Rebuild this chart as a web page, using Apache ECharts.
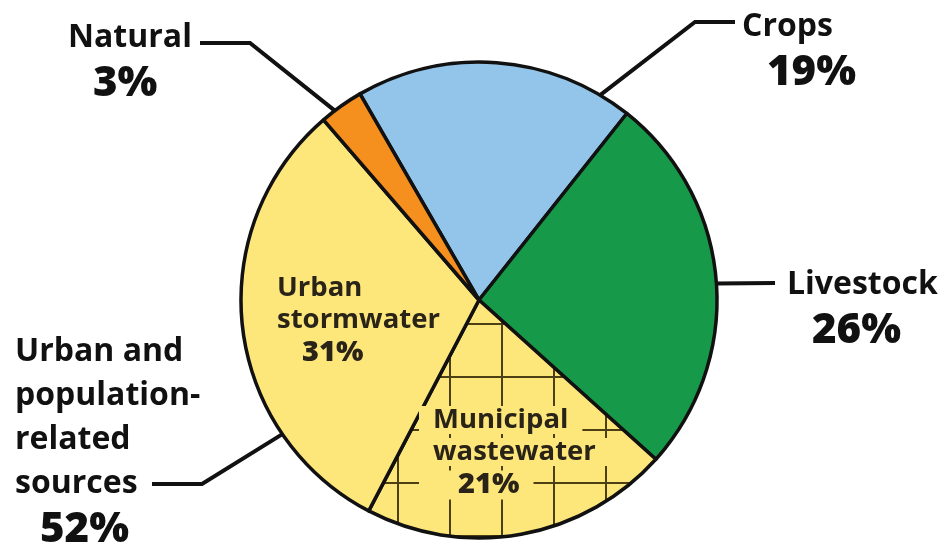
<!DOCTYPE html>
<html>
<head>
<meta charset="utf-8">
<script src="https://cdn.jsdelivr.net/npm/echarts@6/dist/echarts.min.js"></script>
<style>
  html, body { margin: 0; padding: 0; background: #fff; }
  #chart { width: 951px; height: 548px; }
</style>
</head>
<body>
<div id="chart"></div>
<script>
// Slices, clockwise from the upper left
const sliceNames = ['Crops', 'Livestock', 'Municipal wastewater', 'Urban stormwater', 'Natural'];
const sliceValues = [19, 26, 21, 31, 3];
const sliceLabelText = ['', '', 'Municipal\nwastewater', 'Urban\nstormwater', ''];

// Outer groups and the slices each one covers
const groupNames = ['Crops', 'Livestock', 'Urban and population-related sources', 'Natural'];
const groupMembers = [['Crops'], ['Livestock'], ['Municipal wastewater', 'Urban stormwater'], ['Natural']];
const groupLabelText = ['Crops', 'Livestock', 'Urban and\npopulation-\nrelated\nsources', 'Natural'];

// ---- styling / layout ----
const FONT = '"Open Sans", "Noto Sans", sans-serif';
const CENTER = [479, 300];
const RADIUS = 238;
const START_ANGLE = 120;
const COLORS = {
  'Crops': '#93c5ea',
  'Livestock': '#17994a',
  'Urban stormwater': '#fde67a',
  'Natural': '#f5901f'
};
const YELLOW = '#fde67a';

// grid-hatched fill for the wastewater slice
function gridPattern() {
  const w = 52, h = 53;
  const c = document.createElement('canvas');
  c.width = w; c.height = h;
  const ctx = c.getContext('2d');
  ctx.fillStyle = YELLOW;
  ctx.fillRect(0, 0, w, h);
  ctx.fillStyle = '#4d3f14';
  ctx.fillRect(0, 0, 2, h);
  ctx.fillRect(0, 0, w, 2);
  return { image: c, repeat: 'repeat', x: 33, y: 5 };
}

// point on the rim, angle measured clockwise from 12 o'clock
function rim(deg) {
  const a = deg * Math.PI / 180;
  return [CENTER[0] + RADIUS * Math.sin(a), CENTER[1] - RADIUS * Math.cos(a)];
}

// outer label placement and leader lines (by group index)
const outerLayout = [
  { x: 742, y: 5,   rimAngle: 30.6,  bends: [[695, 22], [735, 22]] },
  { x: 787, y: 263, rimAngle: 86,    bends: [[775, 283]] },
  { x: 15,  y: 330, rimAngle: 235.7, bends: [[202, 484], [152, 484]] },
  { x: 68,  y: 16,  rimAngle: 322.7, bends: [[250, 43], [200, 43]] }
];
// inner label placement (by slice index)
const innerLayout = {
  2: { x: 433, y: 404 },
  3: { x: 277, y: 272 }
};

const sliceData = sliceNames.map(function (name, i) {
  const item = { name: name, value: sliceValues[i] };
  item.itemStyle = { color: name === 'Municipal wastewater' ? gridPattern() : COLORS[name] };
  if (sliceLabelText[i]) {
    const bg = name === 'Municipal wastewater';
    item.label = {
      show: true,
      position: 'inside',
      formatter: '{' + (bg ? 'mn' : 'n') + '|' + sliceLabelText[i] + '}\n{' + (bg ? 'mp' : 'p') + '|' + sliceValues[i] + '%}'
    };
  } else {
    item.label = { show: false };
  }
  return item;
});

const groupData = groupNames.map(function (name, i) {
  const v = groupMembers[i].reduce(function (s, m) { return s + sliceValues[sliceNames.indexOf(m)]; }, 0);
  return {
    name: name,
    value: v,
    label: { formatter: '{n|' + groupLabelText[i] + '}\n{p|' + v + '%}' }
  };
});

const innerName = { fontFamily: FONT, fontSize: 27.5, fontWeight: 700, lineHeight: 32, color: '#2a2418' };
const innerPct = { fontFamily: FONT, fontSize: 29, fontWeight: 800, lineHeight: 34, color: '#2a2418', padding: [0, 0, 0, 25] };

const chart = echarts.init(document.getElementById('chart'), null, { renderer: 'canvas' });
chart.setOption({
  backgroundColor: '#ffffff',
  animation: false,
  series: [
    {
      type: 'pie',
      center: CENTER,
      radius: RADIUS,
      startAngle: START_ANGLE,
      clockwise: true,
      avoidLabelOverlap: false,
      silent: true,
      itemStyle: { borderColor: '#111', borderWidth: 3.5 },
      emphasis: { disabled: true },
      labelLine: { show: false },
      label: {
        rich: {
          n: innerName,
          p: innerPct,
          mn: Object.assign({}, innerName, { backgroundColor: YELLOW, padding: [0, 14, 0, 14] }),
          mp: Object.assign({}, innerPct, { backgroundColor: YELLOW, padding: [0, 14, 0, 39] })
        }
      },
      labelLayout: function (p) {
        const cfg = innerLayout[p.dataIndex];
        if (!cfg) return {};
        const bg = sliceNames[p.dataIndex] === 'Municipal wastewater';
        return { x: cfg.x - (bg ? 14 : 0), y: cfg.y, align: 'left', verticalAlign: 'top' };
      },
      data: sliceData
    },
    {
      type: 'pie',
      center: CENTER,
      radius: RADIUS,
      startAngle: START_ANGLE,
      clockwise: true,
      avoidLabelOverlap: false,
      silent: true,
      itemStyle: { color: 'rgba(0,0,0,0)', borderWidth: 0 },
      emphasis: { disabled: true },
      label: {
        show: true,
        position: 'outside',
        rich: {
          n: { fontFamily: FONT, fontSize: 32, fontWeight: 700, lineHeight: 44, color: '#111' },
          p: { fontFamily: FONT, fontSize: 42, fontWeight: 800, lineHeight: 48, color: '#111', padding: [0, 0, 0, 25] }
        }
      },
      labelLine: { show: true, lineStyle: { color: '#111', width: 4 } },
      labelLayout: function (p) {
        const cfg = outerLayout[p.dataIndex];
        return {
          x: cfg.x, y: cfg.y, align: 'left', verticalAlign: 'top',
          labelLinePoints: [rim(cfg.rimAngle)].concat(cfg.bends)
        };
      },
      data: groupData
    }
  ]
});
</script>
</body>
</html>
